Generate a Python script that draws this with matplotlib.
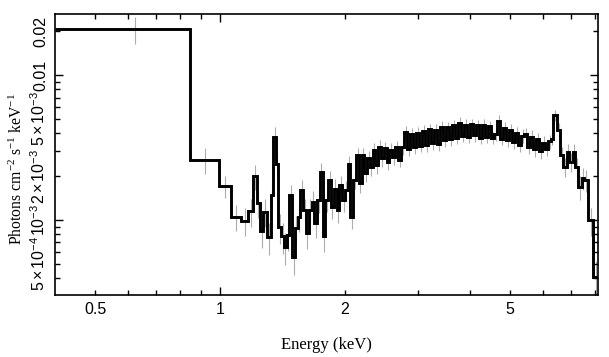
import matplotlib
matplotlib.use('Agg')
import matplotlib.pyplot as plt
import numpy as np
from matplotlib.ticker import FixedLocator, FixedFormatter

plt.rcParams['mathtext.fontset'] = 'custom'
plt.rcParams['mathtext.rm'] = 'Liberation Serif'
plt.rcParams['mathtext.it'] = 'Liberation Serif:italic'
plt.rcParams['mathtext.sf'] = 'Liberation Sans'

# bin edges (keV)
edges_kev = [
    0.400, 0.846, 0.995, 1.061, 1.124, 1.170, 1.199, 1.226, 1.248, 1.271,
    1.300, 1.325, 1.344, 1.364, 1.382, 1.403, 1.426, 1.448, 1.469, 1.491,
    1.516, 1.539, 1.561, 1.587, 1.611, 1.636, 1.663, 1.687, 1.713, 1.742,
    1.768, 1.794, 1.824, 1.851, 1.879, 1.910, 1.939, 1.968, 2.001, 2.031,
    2.061, 2.096, 2.127, 2.160, 2.194, 2.227, 2.261, 2.298, 2.333, 2.367,
    2.407, 2.443, 2.480, 2.521, 2.558, 2.597, 2.641,
    2.685, 2.730, 2.776, 2.822, 2.870, 2.918, 2.967, 3.017, 3.067, 3.119,
    3.171, 3.224, 3.279, 3.334, 3.389, 3.446, 3.504, 3.563, 3.622, 3.684,
    3.745, 3.808, 3.873, 3.938, 4.003, 4.071, 4.139, 4.209, 4.279, 4.351,
    4.424, 4.498, 4.574, 4.651, 4.729, 4.808, 4.889, 4.971, 5.054, 5.139,
    5.225, 5.313, 5.402, 5.493, 5.585, 5.679, 5.774, 5.871, 5.969, 6.069,
    6.171, 6.275,
    6.345, 6.486, 6.597, 6.708, 6.858, 6.934, 7.089, 7.168, 7.289, 7.452,
    7.535, 7.703, 7.920, 8.150,
]

# flux in units of 1e-3 photons cm^-2 s^-1 keV^-1
flux_1e3 = [
    20.8, 2.60, 1.72, 1.05, 0.99, 1.15, 2.00, 1.31, 0.84, 1.14,
    0.76, 1.49, 3.75, 2.45, 0.89, 0.77, 0.655, 0.79, 1.49, 0.56,
    0.88, 1.05, 1.61, 1.17, 0.81, 1.17, 1.34, 0.95, 1.37, 2.15,
    0.77, 1.37, 1.89, 1.23, 1.65, 1.17, 1.74, 1.37, 1.61, 2.45,
    1.05, 1.89, 2.81, 1.79, 2.81, 2.10, 2.66, 2.33, 3.04, 2.39,
    3.20, 2.66, 3.12, 2.52, 3.04, 2.73, 3.20,
    2.60, 3.20, 4.05, 3.10, 3.90, 3.20, 3.98, 3.25, 4.10, 3.30,
    4.25, 3.40, 4.15, 3.35, 4.40, 3.55, 4.35, 3.60, 4.50, 3.70,
    4.70, 3.80, 4.55, 3.75, 4.60, 3.85, 4.50, 3.70, 4.55, 3.75,
    4.45, 3.70, 3.90, 4.85, 3.65, 4.30, 3.55, 4.20, 3.45, 4.00,
    3.30, 3.80, 3.95, 3.20, 3.75, 3.10, 3.60, 3.00, 3.40, 3.10,
    3.50, 3.65,
    5.30, 4.18, 2.81, 2.32, 2.94, 2.51, 2.94, 2.32, 1.69, 1.95,
    1.89, 1.00, 0.404,
]

# relative 1-sigma errors
rel_err = [
    0.21, 0.20, 0.17, 0.20, 0.22, 0.22, 0.19, 0.21, 0.24, 0.22,
    0.25, 0.20, 0.17, 0.18, 0.23, 0.24, 0.25, 0.23, 0.18, 0.26,
    0.22, 0.21, 0.17, 0.19, 0.22, 0.19, 0.18, 0.21, 0.18, 0.15,
    0.22, 0.17, 0.15, 0.18, 0.16, 0.18, 0.15, 0.17, 0.16, 0.13,
    0.18, 0.14, 0.12, 0.14, 0.12, 0.13, 0.12, 0.13, 0.11, 0.13,
    0.11, 0.12, 0.11, 0.12, 0.11, 0.12, 0.10,
    0.11, 0.12, 0.10, 0.11, 0.10, 0.11, 0.10, 0.10, 0.10, 0.11,
    0.09, 0.10, 0.10, 0.10, 0.09, 0.10, 0.09, 0.10, 0.09, 0.10,
    0.09, 0.09, 0.09, 0.10, 0.09, 0.10, 0.09, 0.10, 0.09, 0.10,
    0.09, 0.10, 0.10, 0.09, 0.10, 0.10, 0.10, 0.10, 0.11, 0.10,
    0.11, 0.11, 0.10, 0.11, 0.11, 0.12, 0.11, 0.12, 0.11, 0.11,
    0.11, 0.10,
    0.09, 0.11, 0.14, 0.15, 0.13, 0.15, 0.14, 0.16, 0.19, 0.18,
    0.18, 0.22, 0.30,
]

x_major = [1.0]
x_major_labels = ['1']
x_minor = [0.5, 0.6, 0.7, 0.8, 0.9, 2, 3, 4, 5, 6, 7, 8]
x_minor_labels = ['0.5', '', '', '', '', '2', '', '', '5', '', '', '']

y_major = [1e-3, 1e-2]
y_major_labels = [r'$\mathsf{10^{-3}}$', '0.01']
y_minor = [4e-4, 5e-4, 6e-4, 7e-4, 8e-4, 9e-4,
           2e-3, 3e-3, 4e-3, 5e-3, 6e-3, 7e-3, 8e-3, 9e-3, 2e-2]
y_minor_labels = ['', r'$\mathsf{5\times10^{-4}}$', '', '', '', '',
                  r'$\mathsf{2\times10^{-3}}$', '', '', r'$\mathsf{5\times10^{-3}}$',
                  '', '', '', '', '0.02']

edges = np.array(edges_kev)
flux = np.array(flux_1e3) * 1e-3
err = flux * np.array(rel_err)
centers = 0.5 * (edges[:-1] + edges[1:])

fig = plt.figure(figsize=(6.09, 3.57), dpi=100)
ax = fig.add_axes([0.0903, 0.1737, 0.8916, 0.7871])

ax.errorbar(centers, flux, yerr=err, fmt='none', ecolor='0.68', elinewidth=0.8, zorder=1)
ax.stairs(flux, edges, baseline=None, color='k', lw=2.1, zorder=2)

ax.set_xscale('log')
ax.set_yscale('log')
ax.set_xlim(0.40, 8.14)
ax.set_ylim(3.04e-4, 0.0264)

ax.xaxis.set_major_locator(FixedLocator(x_major))
ax.xaxis.set_major_formatter(FixedFormatter(x_major_labels))
ax.xaxis.set_minor_locator(FixedLocator(x_minor))
ax.xaxis.set_minor_formatter(FixedFormatter(x_minor_labels))
ax.yaxis.set_major_locator(FixedLocator(y_major))
ax.yaxis.set_major_formatter(FixedFormatter(y_major_labels))
ax.yaxis.set_minor_locator(FixedLocator(y_minor))
ax.yaxis.set_minor_formatter(FixedFormatter(y_minor_labels))

ax.tick_params(which='both', direction='in', top=True, right=True, width=1.0,
               labelsize=11.5, pad=5)
ax.tick_params(which='major', length=6)
ax.tick_params(which='minor', length=3.5)
ax.tick_params(axis='y', which='both', labelrotation=90)
for lab in ax.get_xticklabels(which='both') + ax.get_yticklabels(which='both'):
    lab.set_fontfamily(['Liberation Sans', 'DejaVu Sans'])
for lab in ax.get_yticklabels(which='both'):
    lab.set_verticalalignment('center')
for sp in ax.spines.values():
    sp.set_linewidth(1.2)

ax.set_xlabel('Energy (keV)', family='Liberation Serif', fontsize=12)
ax.set_ylabel(r'Photons cm$^{-2}$ s$^{-1}$ keV$^{-1}$', family='Liberation Serif', fontsize=11.3)
ax.xaxis.set_label_coords(0.5, -0.15)
ax.yaxis.set_label_coords(-0.053, 0.45)

fig.savefig('out.png', dpi=100)
